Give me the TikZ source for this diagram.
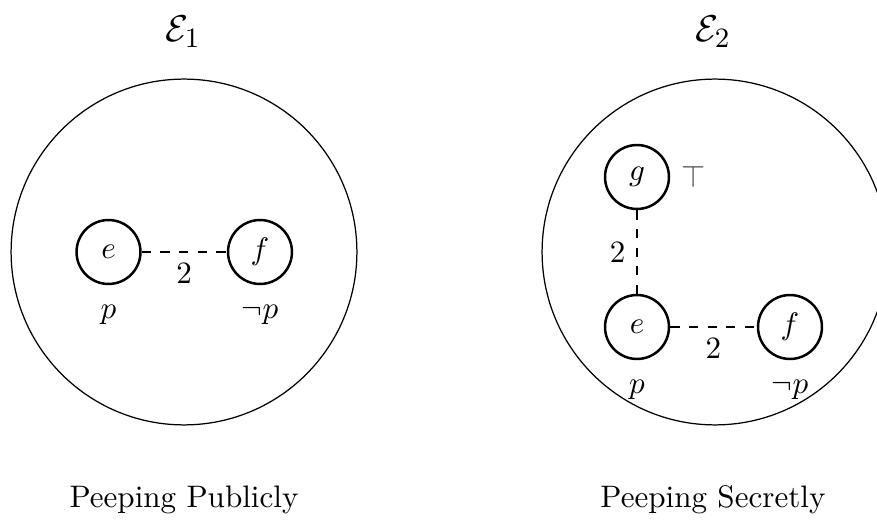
\documentclass[tikz,border=0pt]{standalone}
\usepackage{amssymb}
\usetikzlibrary{positioning}
\tikzset{
  model/.style={
    % The shape:
    circle,
    % The size:
    minimum size=3.91cm,
    % The border:
    draw=black, thin},
  world/.style={
    % The shape:
    circle,
    minimum size=0.723cm,
    % The rest
    draw=black, thick},
  link/.style={dashed, thick},
  title/.style={font=\fontsize{13}{16}\selectfont},
  caption/.style={font=\normalsize}
}

\begin{document}
\begin{tikzpicture}[x=0.0113cm,y=-0.0113cm]
  \useasboundingbox (0,0) rectangle (877,522);

  % first model
  \node (m1) [model] at (184,252) {};
  \node (t1) [title] at (183,32) {$\mathcal{E}_1$};
  \node (e1) [world,label={[label distance=3pt]below:$p$}] at (108.5,252) {$e$};
  \node (f1) [world,label={[label distance=3pt]below:$\neg p$}] at (260,252) {$f$};
  \draw[link] (e1) -- node[below] {$2$} (f1);
  \node (c1) [caption] at (184,500) {Peeping Publicly};

  % second model
  \node (m2) [model] at (715,252) {};
  \node (t2) [title] at (713,32) {$\mathcal{E}_2$};
  \node (g2) [world,label={[text=black!70,label distance=0pt]right:$\top$}] at (637,177) {$g$};
  \node (e2) [world,label={[label distance=3pt]below:$p$}] at (637,327) {$e$};
  \node (f2) [world,label={[label distance=3pt]below:$\neg p$}] at (790,327) {$f$};
  \draw[link] (g2) -- node[left] {$2$} (e2);
  \draw[link] (e2) -- node[below] {$2$} (f2);
  \node (c2) [caption] at (713,500) {Peeping Secretly};
\end{tikzpicture}
\end{document}
